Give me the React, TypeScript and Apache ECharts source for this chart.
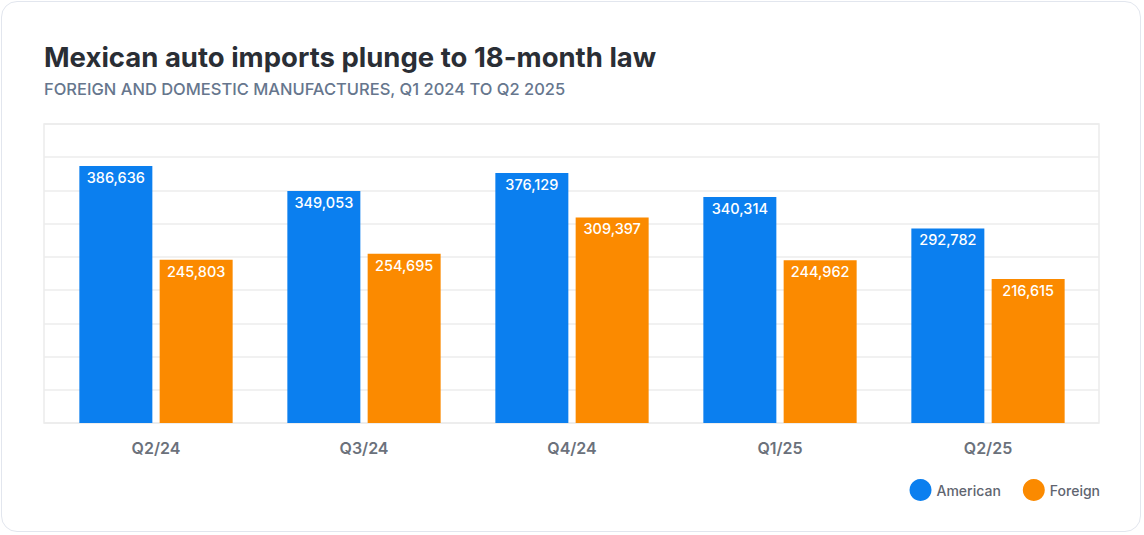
import React, { useEffect, useRef } from "react";
import * as echarts from "echarts";

const categories = ["Q2/24", "Q3/24", "Q4/24", "Q1/25", "Q2/25"];
const american = [386636, 349053, 376129, 340314, 292782];
const foreign = [245803, 254695, 309397, 244962, 216615];
const seriesNames = ["American", "Foreign"];

const FONT = "Inter, 'Noto Sans', sans-serif";

export default function App() {
  const ref = useRef<HTMLDivElement>(null);
  useEffect(() => {
    if (!ref.current) return;
    const chart = echarts.init(ref.current, undefined, { renderer: "svg" });
    const label = {
      show: true,
      position: "insideTop",
      distance: 4,
      color: "#ffffff",
      fontSize: 14.5,
      fontWeight: 500,
      fontFamily: FONT,
      formatter: (p: any) => Number(p.value).toLocaleString("en-US"),
    };
    chart.setOption({
      animation: false,
      title: {
        text: "Mexican auto imports plunge to 18-month law",
        subtext: "FOREIGN AND DOMESTIC MANUFACTURES, Q1 2024 TO Q2 2025",
        left: 39,
        top: 38,
        itemGap: 9,
        textStyle: { fontSize: 27.5, fontWeight: 700, color: "#2a2e35", fontFamily: FONT },
        subtextStyle: { fontSize: 16.5, fontWeight: 500, color: "#66768d", fontFamily: FONT },
      },
      legend: {
        data: seriesNames,
        right: 39,
        top: 474,
        icon: "circle",
        itemWidth: 22,
        itemHeight: 22,
        itemGap: 22,
        textStyle: { fontSize: 14, color: "#5f6570", fontFamily: FONT, fontWeight: 500 },
      },
      grid: [
        { left: 52, right: 52, top: 124, bottom: 112 },
        {
          left: 44,
          right: 45,
          top: 124,
          bottom: 112,
          show: true,
          borderColor: "#ebebeb",
          borderWidth: 1.5,
          backgroundColor: "transparent",
        },
      ],
      xAxis: [
        {
          type: "category",
          data: categories,
          gridIndex: 0,
          axisLine: { show: false },
          axisTick: { show: false },
          axisLabel: {
            margin: 17,
            fontSize: 16,
            fontWeight: 600,
            color: "#6b717b",
            fontFamily: FONT,
          },
        },
        {
          type: "category",
          data: categories,
          gridIndex: 1,
          show: false,
        },
      ],
      yAxis: [
        {
          type: "value",
          gridIndex: 0,
          min: 0,
          max: 450000,
          interval: 50000,
          axisLabel: { show: false },
          axisLine: { show: false },
          axisTick: { show: false },
          splitLine: { show: false },
        },
        {
          type: "value",
          gridIndex: 1,
          min: 0,
          max: 450000,
          interval: 50000,
          axisLabel: { show: false },
          axisLine: { show: false },
          axisTick: { show: false },
          splitLine: { show: true, lineStyle: { color: "#ececec", width: 1.5 } },
        },
      ],
      series: [
        {
          name: seriesNames[0],
          type: "bar",
          data: american,
          barWidth: 73,
          barGap: "10%",
          itemStyle: { color: "#0b7fef" },
          label,
          xAxisIndex: 0,
          yAxisIndex: 0,
          z: 3,
        },
        {
          name: seriesNames[1],
          type: "bar",
          data: foreign,
          barWidth: 73,
          barGap: "10%",
          itemStyle: { color: "#fb8a00" },
          label,
          xAxisIndex: 0,
          yAxisIndex: 0,
          z: 3,
        },
      ],
    });
    return () => chart.dispose();
  }, []);
  return (
    <div
      style={{
        position: "fixed",
        left: 0,
        top: 0,
        width: 1144,
        height: 535,
        background: "#ffffff",
      }}
    >
      <div
        style={{
          position: "absolute",
          left: 1,
          top: 1,
          width: 1140,
          height: 531,
          border: "1px solid #e2e6ee",
          borderRadius: 16,
          boxSizing: "border-box",
        }}
      />
      <div ref={ref} style={{ position: "absolute", left: 0, top: 0, width: 1144, height: 535 }} />
    </div>
  );
}
